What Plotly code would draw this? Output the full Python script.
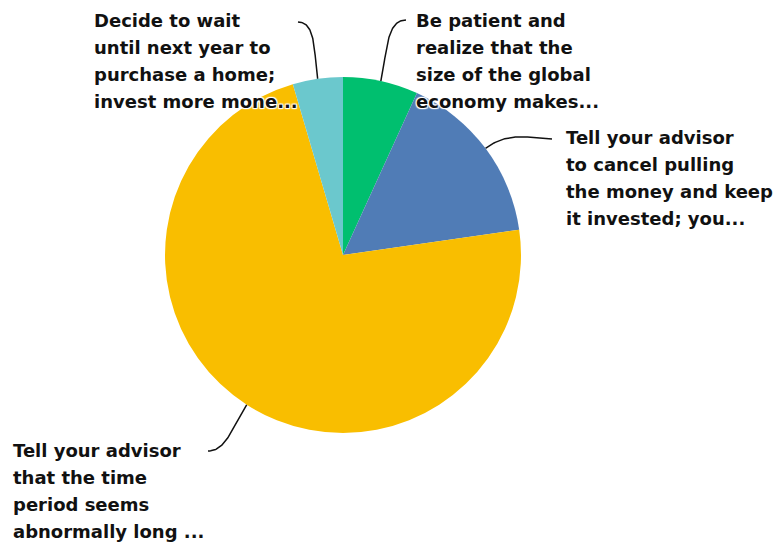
import numpy as np
import plotly.graph_objects as go

# Survey answers (counts) in clockwise order from 12 o'clock
answers = [
    ["Be patient and", "realize that the", "size of the global", "economy makes..."],
    ["Tell your advisor", "to cancel pulling", "the money and keep", "it invested; you..."],
    ["Tell your advisor", "that the time", "period seems", "abnormally long ..."],
    ["Decide to wait", "until next year to", "purchase a home;", "invest more mone..."],
]
counts = [3, 7, 32, 2]
colors = ["#00BF6F", "#507CB6", "#F9BE00", "#6BC8CD"]

W, H = 775, 545
CX, CY, R = 343, 255, 178

# Label block placement: left x, first-line centre y, leader end point, end direction
label_x = [414, 564, 11, 92]
label_y = [20, 137, 450, 20]
leader_end = [(406, 20), (552, 139), (208, 451), (298, 22)]
leader_dir = [1, 1, -1, -1]
LINE_H = 27

fig = go.Figure()

fig.add_trace(go.Pie(
    labels=[" ".join(a) for a in answers],
    values=counts,
    marker=dict(colors=colors, line=dict(width=0)),
    sort=False,
    direction="clockwise",
    rotation=0,
    textinfo="none",
    hoverinfo="label+percent",
    showlegend=False,
    domain=dict(x=[(CX - R) / W, (CX + R) / W],
                y=[(H - CY - R) / H, (H - CY + R) / H]),
))

# Leader lines: cubic curves from each slice's mid-angle to its label
total = sum(counts)
start = 0.0
t = np.linspace(0, 1, 60)
for i, c in enumerate(counts):
    mid = (start + c / 2) / total * 2 * np.pi
    start += c
    ux, uy = np.sin(mid), -np.cos(mid)
    p0 = np.array([CX + R * ux, CY + R * uy])
    p3 = np.array(leader_end[i], dtype=float)
    d = np.linalg.norm(p3 - p0)
    p1 = p0 + np.array([ux, uy]) * d * 0.45
    p2 = p3 - np.array([leader_dir[i], 0.0]) * d * 0.3
    pts = ((1 - t) ** 3)[:, None] * p0 + (3 * (1 - t) ** 2 * t)[:, None] * p1 \
        + (3 * (1 - t) * t ** 2)[:, None] * p2 + (t ** 3)[:, None] * p3
    fig.add_trace(go.Scatter(x=pts[:, 0], y=pts[:, 1], mode="lines",
                             line=dict(color="#111111", width=1.5),
                             hoverinfo="skip", showlegend=False))

halo = ("1px 1px 1px #fff, -1px -1px 1px #fff, 1px -1px 1px #fff, "
        "-1px 1px 1px #fff, 0 0 2px #fff")
annotations = []
for i, lines in enumerate(answers):
    for j, line in enumerate(lines):
        annotations.append(dict(
            x=label_x[i], y=label_y[i] + j * LINE_H, xref="x", yref="y",
            text=line, showarrow=False, xanchor="left", yanchor="middle",
            align="left",
            font=dict(family="DejaVu Sans", size=18, color="#111111",
                      weight="bold", shadow=halo),
        ))

fig.update_layout(
    width=W, height=H,
    margin=dict(l=0, r=0, t=0, b=0),
    paper_bgcolor="white", plot_bgcolor="white",
    xaxis=dict(range=[0, W], visible=False, fixedrange=True),
    yaxis=dict(range=[H, 0], visible=False, fixedrange=True),
    annotations=annotations,
)

fig.write_html("out.html")
